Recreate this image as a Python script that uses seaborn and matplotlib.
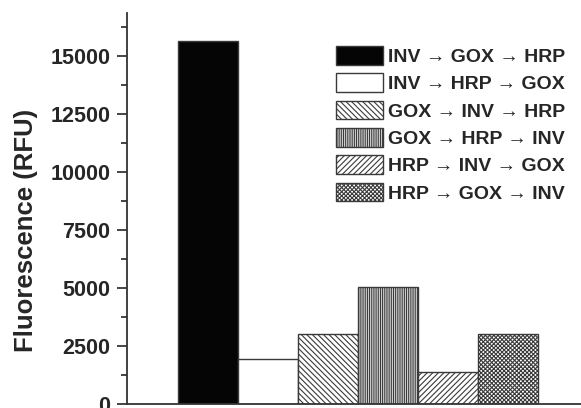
import matplotlib
matplotlib.use("Agg")
import matplotlib.pyplot as plt
from matplotlib.ticker import MultipleLocator
import seaborn as sns
import pandas as pd

# cascade orders and measured fluorescence
orders = ["INV \u2192 GOX \u2192 HRP", "INV \u2192 HRP \u2192 GOX", "GOX \u2192 INV \u2192 HRP",
          "GOX \u2192 HRP \u2192 INV", "HRP \u2192 INV \u2192 GOX", "HRP \u2192 GOX \u2192 INV"]
fluorescence = [15650, 1940, 3030, 5050, 1390, 3000]
fills = ["#050505", "white", "white", "white", "white", "white"]
hatches = ["", "", "\\" * 6, "|" * 9, "/" * 6, "x" * 8]

df = pd.DataFrame({"order": orders, "rfu": fluorescence})

sns.set_style("ticks")
plt.rcParams["font.family"] = ["Liberation Sans", "DejaVu Sans"]
plt.rcParams["font.weight"] = "bold"
plt.rcParams["hatch.linewidth"] = 0.8

fig = plt.figure(figsize=(5.81, 4.08), dpi=100)
ax = fig.add_axes([127 / 581, 4 / 408, 1 - 127 / 581, 391 / 408])

sns.barplot(data=df, x="order", y="rfu", hue="order", palette=fills,
            width=1.0, edgecolor="#3a3a3a", linewidth=1.0, ax=ax, legend=True)

for bar, h in zip(ax.patches, hatches):
    bar.set_hatch(h)

ax.set_xlim(-1.35, 6.22)
ax.set_ylim(0, 16850)
ax.yaxis.set_major_locator(MultipleLocator(2500))
ax.yaxis.set_minor_locator(MultipleLocator(1250))
ax.tick_params(axis="y", which="major", length=7, width=1.2, labelsize=15.5, pad=5)
ax.tick_params(axis="y", which="minor", length=4, width=1.2)
ax.set_xticks([])
ax.set_xlabel("")
ax.set_ylabel("Fluorescence (RFU)", fontsize=18.5, fontweight="bold")
ax.yaxis.set_label_coords(-0.195, 0.445)
for lab in ax.get_yticklabels():
    lab.set_fontweight("bold")
for s in ["top", "right"]:
    ax.spines[s].set_visible(False)
for s in ["left", "bottom"]:
    ax.spines[s].set_linewidth(1.3)
    ax.spines[s].set_color("#333333")

leg = ax.legend(loc="upper left", bbox_to_anchor=(336 / 581, 1 - 46 / 408),
                bbox_transform=fig.transFigure, frameon=False, fontsize=14,
                handlelength=2.4, handleheight=1.1, handletextpad=0.3,
                labelspacing=0.38, borderpad=0, borderaxespad=0)
for handle, h, c in zip(leg.legend_handles, hatches, fills):
    handle.set_hatch(h)
    handle.set_facecolor(c)
    handle.set_edgecolor("#3a3a3a")
for t in leg.get_texts():
    t.set_fontweight("bold")

fig.savefig("out.png", dpi=100)
